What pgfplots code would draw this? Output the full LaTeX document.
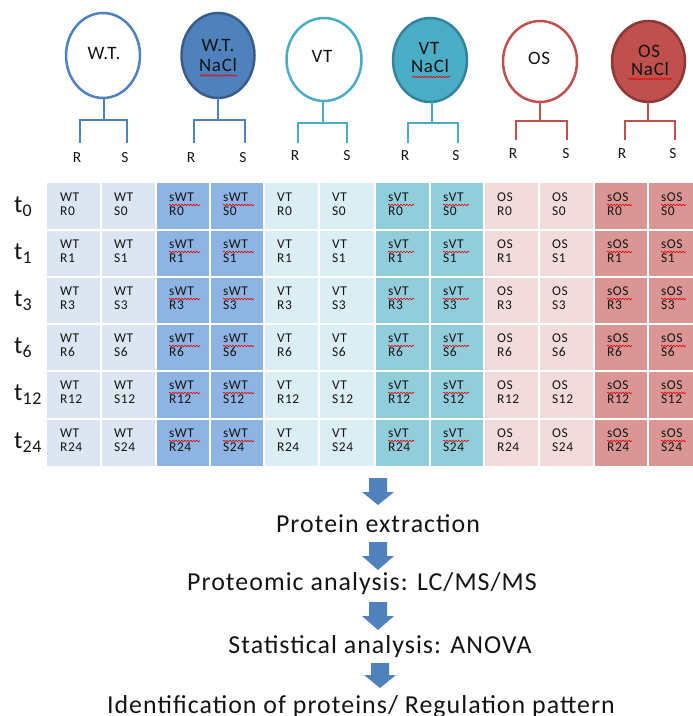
\documentclass[border=0pt]{standalone}
\usepackage{pgfplots}
\pgfplotsset{compat=1.18}
\usepackage{fontspec}
\setmainfont{Carlito}[LetterSpace=4]
\usetikzlibrary{decorations.pathmorphing}
\definecolor{bA}{HTML}{4F81BD}\definecolor{bAd}{HTML}{385D8A}
\definecolor{cA}{HTML}{4BACC6}\definecolor{cAd}{HTML}{31859C}
\definecolor{rA}{HTML}{C0504D}\definecolor{rAd}{HTML}{8C3836}
\definecolor{cWT}{HTML}{DCE6F2}\definecolor{cSWT}{HTML}{8EB4E3}
\definecolor{cVT}{HTML}{DAEEF3}\definecolor{cSVT}{HTML}{92CDDC}
\definecolor{cOS}{HTML}{F2DCDB}\definecolor{cSOS}{HTML}{D99694}
\definecolor{txt}{HTML}{141414}
\newcommand\cellfont{\fontsize{13.5}{13.5}\selectfont}
\newcommand\wavy[3]{\draw[red!90!black, line width=0.6bp, decorate, decoration={snake, amplitude=0.8bp, segment length=3bp}] (axis cs:#1,#3) -- (axis cs:#2,#3);}
\newcommand\onecell[5]{%
  \node[anchor=base west, inner sep=0pt, font=\cellfont, text=txt] at (axis cs:#1+13,#2+18.5) {#3};
  \node[anchor=base west, inner sep=0pt, font=\cellfont, text=txt] at (axis cs:#1+13,#2+32) {#4};
  \ifnum#5>0 \wavy{#1+13}{#1+13+#5}{#2+22}\fi
}
\newcommand\col[4]{%
  \onecell{#1}{183}{#2}{#30}{#4}
  \onecell{#1}{230}{#2}{#31}{#4}
  \onecell{#1}{277}{#2}{#33}{#4}
  \onecell{#1}{324}{#2}{#36}{#4}
  \onecell{#1}{371}{#2}{#312}{#4}
  \onecell{#1}{419}{#2}{#324}{#4}
}
\newcommand\rowlab[2]{\node[anchor=base west, inner sep=0pt, text=txt] at (axis cs:14,#1+29) {\fontsize{25}{25}\selectfont t\raisebox{-4bp}{\fontsize{18}{18}\selectfont #2}};}
\newcommand\bracket[7]{% color, stem x, circle bottom, bracket y, left x, right x, leg bottom
  \draw[#1, line width=2bp] (axis cs:#2,#3) -- (axis cs:#2,#4);
  \draw[#1, line width=2bp] (axis cs:#5,#7) -- (axis cs:#5,#4) -- (axis cs:#6,#4) -- (axis cs:#6,#7);
}
\newcommand\arr[4]{% center x, top, head start, tip
  \fill[bA] (axis cs:#1-9,#2) -- (axis cs:#1+9,#2) -- (axis cs:#1+9,#3) -- (axis cs:#1+16,#3) -- (axis cs:#1,#4) -- (axis cs:#1-16,#3) -- (axis cs:#1-9,#3) -- cycle;
}
\newcommand\ctext[3]{\node[anchor=base, inner sep=0pt, text=txt, font=\fontsize{19}{19}\selectfont] at (axis cs:#1,#2) {#3};}
\newcommand\mtext[3]{\node[anchor=base, inner sep=0pt, text=txt, font=\fontsize{26}{26}\selectfont] at (axis cs:#1,#2) {#3};}
\begin{document}
\begin{tikzpicture}
\begin{axis}[
  width=693bp, height=716bp, scale only axis,
  xmin=0, xmax=693, ymin=0, ymax=716, y dir=reverse,
  hide axis, clip=true,
]
% column backgrounds
\addplot[fill=cWT, draw=none] coordinates {(47,183) (101,183) (101,466) (47,466)} -- cycle;
\addplot[fill=cWT, draw=none] coordinates {(101,183) (156,183) (156,466) (101,466)} -- cycle;
\addplot[fill=cSWT, draw=none] coordinates {(156,183) (210,183) (210,466) (156,466)} -- cycle;
\addplot[fill=cSWT, draw=none] coordinates {(210,183) (264,183) (264,466) (210,466)} -- cycle;
\addplot[fill=cVT, draw=none] coordinates {(264,183) (319,183) (319,466) (264,466)} -- cycle;
\addplot[fill=cVT, draw=none] coordinates {(319,183) (375,183) (375,466) (319,466)} -- cycle;
\addplot[fill=cSVT, draw=none] coordinates {(375,183) (430,183) (430,466) (375,466)} -- cycle;
\addplot[fill=cSVT, draw=none] coordinates {(430,183) (484,183) (484,466) (430,466)} -- cycle;
\addplot[fill=cOS, draw=none] coordinates {(484,183) (539,183) (539,466) (484,466)} -- cycle;
\addplot[fill=cOS, draw=none] coordinates {(539,183) (594,183) (594,466) (539,466)} -- cycle;
\addplot[fill=cSOS, draw=none] coordinates {(594,183) (648,183) (648,466) (594,466)} -- cycle;
\addplot[fill=cSOS, draw=none] coordinates {(648,183) (702,183) (702,466) (648,466)} -- cycle;
% grid lines
\foreach \yy in {230,277,324,371,419} {\edef\tmp{\noexpand\draw[white, line width=2bp] (axis cs:47,\yy) -- (axis cs:702,\yy);}\tmp}
\foreach \xx in {101,156,210,264,319,375,430,484,539,594,648} {\edef\tmp{\noexpand\draw[white, line width=2bp] (axis cs:\xx,183) -- (axis cs:\xx,466);}\tmp}
% cell texts
\col{47}{WT}{R}{0}
\col{101}{WT}{S}{0}
\col{156}{sWT}{R}{31}
\col{210}{sWT}{S}{31}
\col{264}{VT}{R}{0}
\col{319}{VT}{S}{0}
\col{375}{sVT}{R}{26}
\col{430}{sVT}{S}{26}
\col{484}{OS}{R}{0}
\col{539}{OS}{S}{0}
\col{594}{sOS}{R}{25}
\col{648}{sOS}{S}{25}
% row labels
\rowlab{183}{0}
\rowlab{230}{1}
\rowlab{277}{3}
\rowlab{324}{6}
\rowlab{371}{12}
\rowlab{419}{24}
% circles
\draw[bA, line width=2.5bp, fill=white] (axis cs:103,55.5) ellipse [x radius=37bp, y radius=42.5bp];
\draw[bAd, line width=2.5bp, fill=bA] (axis cs:218,55.5) ellipse [x radius=36.5bp, y radius=42.5bp];
\draw[cA, line width=2.5bp, fill=white] (axis cs:324,59.5) ellipse [x radius=37.5bp, y radius=41.5bp];
\draw[cAd, line width=2.5bp, fill=cA] (axis cs:430,60) ellipse [x radius=37bp, y radius=42bp];
\draw[rA, line width=2.5bp, fill=white] (axis cs:540,61.5) ellipse [x radius=37bp, y radius=40.5bp];
\draw[rAd, line width=2.5bp, fill=rA] (axis cs:648.5,61.5) ellipse [x radius=36.5bp, y radius=40.5bp];
% circle texts
\ctext{104}{60}{W.T.}
\ctext{218}{52}{W.T.}
\ctext{218}{72}{NaCl}
\wavy{200}{237}{75.5}
\ctext{322}{63}{VT}
\ctext{429}{55}{VT}
\ctext{430}{73}{NaCl}
\wavy{412}{450}{77}
\ctext{539}{65}{OS}
\ctext{649}{58}{OS}
\ctext{650}{76}{NaCl}
\wavy{628}{672}{79}
% connectors
\bracket{bA}{104}{98}{120}{80}{127}{143}
\bracket{bA}{218}{98}{120}{194}{245}{143}
\bracket{cA}{323}{101}{123}{298}{347}{143}
\bracket{cA}{432}{102}{123}{408}{458}{143}
\bracket{rA}{540}{102}{121}{516}{567}{140}
\bracket{rA}{648}{102}{121}{625}{675}{140}
% R / S labels
\foreach \px/\py/\lab in {77/163/R,125/163/S,191/163/R,243/163/S,295/161/R,347/161/S,405/161/R,456/161/S,513/159/R,566/159/S,622/159/R,673/159/S}
  {\edef\tmp{\noexpand\node[anchor=base, inner sep=0pt, text=txt, font=\noexpand\fontsize{15.5}{15.5}\noexpand\selectfont] at (axis cs:\px,\py) {\lab};}\tmp}
% arrows
\arr{378}{478}{492}{505}
\arr{378}{542}{556}{570}
\arr{378}{602}{616}{630}
\arr{380}{663}{675}{688}
% workflow text
\mtext{378}{532}{Protein extraction}
\mtext{362}{590}{Proteomic analysis: LC/MS/MS}
\mtext{380}{653}{Statistical analysis: ANOVA}
\mtext{361}{713}{Identification of proteins/ Regulation pattern}
\end{axis}
\pgfresetboundingbox
\path[use as bounding box] (current axis.south west) rectangle (current axis.north east);
\end{tikzpicture}
\end{document}
